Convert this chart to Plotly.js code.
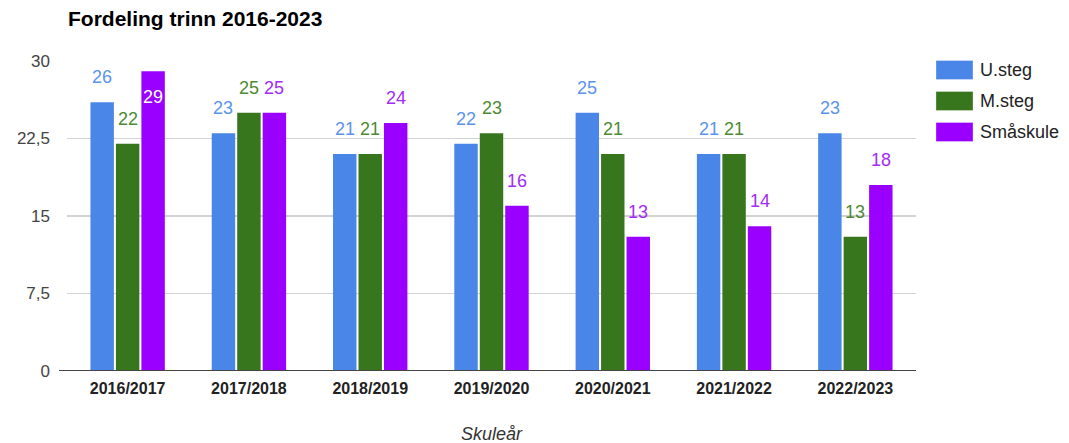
<!DOCTYPE html>
<html><head><meta charset="utf-8">
<script src="https://cdn.plot.ly/plotly-3.0.1.min.js"></script>
<style>body{margin:0;background:#fff}#c{width:1069px;height:443px}</style>
</head><body><div id="c"></div>
<script>
var categories = ["2016/2017","2017/2018","2018/2019","2019/2020","2020/2021","2021/2022","2022/2023"];
var seriesNames = ["U.steg","M.steg","Småskule"];
var uSteg = [26,23,21,22,25,21,23];
var mSteg = [22,25,21,23,21,21,13];
var smaskule = [29,25,24,16,13,14,18];
var yTickVals = [0,7.5,15,22.5,30];
var yTickText = ["0","7,5","15","22,5","30"];

var W = 1069, H = 443;
var M = {l:67, r:153, t:61, b:72};
var plotW = W - M.l - M.r, plotH = H - M.t - M.b;
var bargap = 0.37, bargroupgap = 0.08;
var colors = ['#4a86e8', '#38761d', '#9900ff'];
var labelColors = ['#5b93ec', '#4c8a33', '#a22cf5'];
var FONT = 'Liberation Sans, Arial, sans-serif';
var series = [uSteg, mSteg, smaskule];
var yMax = 30;

var data = series.map(function(vals, i){
  return {type:'bar', name:seriesNames[i], x:categories, y:vals,
    marker:{color:colors[i], line:{width:0}}, hoverinfo:'none', showlegend:false};
});

// value labels placed over bars via data coordinates
var slot = plotW / categories.length * (1 - bargap) / series.length;
var annotations = [];
series.forEach(function(vals, i){
  vals.forEach(function(v, j){
    var inside = v > yMax - 3;
    annotations.push({x:categories[j], y:v, xref:'x', yref:'y', text:String(v), showarrow:false,
      xshift:(i - 1) * slot, yshift: inside ? -26 : 25, yanchor:'middle',
      font:{family:FONT, size:18, color: inside ? '#ffffff' : labelColors[i]}});
  });
});

// x-axis title
annotations.push({text:'<i>Skuleår</i>', xref:'paper', yref:'paper', x:0.5, y:-(434 - (H - M.b)) / plotH,
  xanchor:'center', yanchor:'middle', showarrow:false, font:{family:FONT, size:18, color:'#333'}});

// custom legend
function px2x(p){ return (p - M.l) / plotW; }
function py2y(p){ return (H - M.b - p) / plotH; }
var shapes = [];
seriesNames.forEach(function(n, i){
  var cy = 70 + i * 31;
  shapes.push({type:'rect', xref:'paper', yref:'paper', x0:px2x(936), x1:px2x(973), y0:py2y(cy + 9.5), y1:py2y(cy - 9.5),
    fillcolor:colors[i], line:{width:0.5, color:'rgba(255,255,255,0.6)'}});
  annotations.push({text:n, xref:'paper', yref:'paper', x:px2x(978), y:py2y(cy), xanchor:'left', yanchor:'middle',
    showarrow:false, font:{family:FONT, size:18, color:'#222'}});
});
// baseline
shapes.push({type:'line', xref:'paper', yref:'y', x0:px2x(59), x1:px2x(916), y0:0, y1:0, line:{color:'#444', width:2}, layer:'above'});

var layout = {
  width:W, height:H, margin:M,
  paper_bgcolor:'#fff', plot_bgcolor:'#fff',
  font:{family:FONT, color:'#444'},
  title:{text:'<b>Fordeling trinn 2016-2023</b>', x:px2x(68) * plotW / W + M.l / W, xanchor:'left', xref:'container', y:1 - 19 / H, yanchor:'middle', font:{size:21, color:'#000'}},
  barmode:'group', bargap:bargap, bargroupgap:bargroupgap,
  xaxis:{type:'category', tickfont:{size:16, color:'#222'}, tickprefix:'<b>', ticksuffix:'</b>',
    showline:false, ticks:'', ticklabelstandoff:6},
  yaxis:{range:[0, yMax], tickvals:yTickVals, ticktext:yTickText, tickfont:{size:17, color:'#444'},
    gridcolor:'#d3d3d3', gridwidth:1.5, zeroline:false, ticks:'', ticklabelstandoff:16},
  shapes:shapes, annotations:annotations,
  showlegend:false
};
Plotly.newPlot('c', data, layout, {displayModeBar:false, staticPlot:true});
</script></body></html>
